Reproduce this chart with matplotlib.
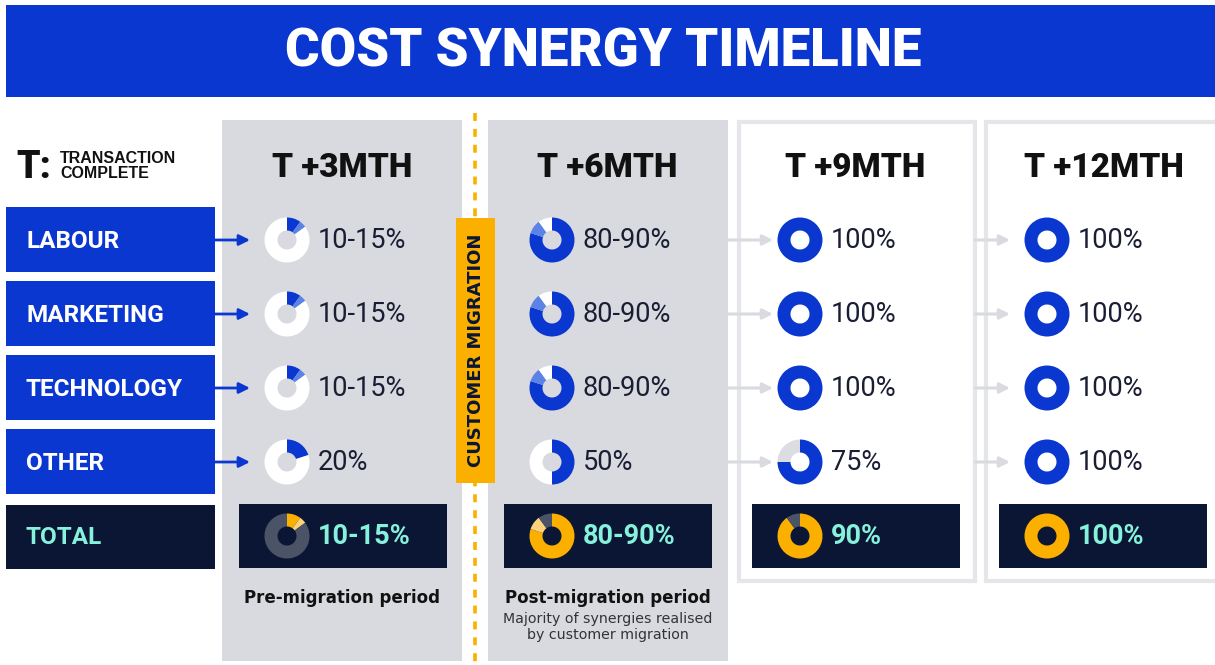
import matplotlib.pyplot as plt
from matplotlib.patches import Rectangle, Wedge

W, H = 1215, 665

periods = ["T +3MTH", "T +6MTH", "T +9MTH", "T +12MTH"]
categories = ["LABOUR", "MARKETING", "TECHNOLOGY", "OTHER"]
# realised cost synergies (%) per period, one entry per category
synergy_low = [[10, 10, 10, 20], [80, 80, 80, 50], [100, 100, 100, 75], [100, 100, 100, 100]]
synergy_high = [[15, 15, 15, 20], [90, 90, 90, 50], [100, 100, 100, 75], [100, 100, 100, 100]]
total_low = [10, 80, 90, 100]
total_high = [15, 90, 90, 100]

BLUE = '#0a37d0'
LIGHT_BLUE = '#5b82e6'
NAVY = '#0b1634'
ORANGE = '#fbb000'
LIGHT_ORANGE = '#fdd27a'
SLATE = '#4b5367'
PANEL_GREY = '#d9dae0'
BORDER = '#e5e6ea'
TEAL = '#86f2dc'
INK = '#1a1e33'
HEAD = ['Roboto', 'DejaVu Sans']
BODY = ['DejaVu Sans']


def label(lo, hi):
    return f"{lo}%" if lo == hi else f"{lo}-{hi}%"


def donut(ax, cx, cy, lo, hi, main, part, rest, r=22.5, w=13):
    for a, b, c in [(0, lo, main), (lo, hi, part), (hi, 100, rest)]:
        if b > a:
            ax.add_patch(Wedge((cx, cy), r, 270 + 3.6 * a, 270 + 3.6 * b,
                               width=w, facecolor=c, edgecolor='none'))


def main():
    fig = plt.figure(figsize=(W / 100, H / 100), dpi=100)
    ax = fig.add_axes([0, 0, 1, 1])
    ax.set_xlim(0, W)
    ax.set_ylim(H, 0)
    ax.axis('off')

    # title banner
    ax.add_patch(Rectangle((6, 5), W, 92, facecolor=BLUE, edgecolor='none'))
    ax.text(603, 52, "COST SYNERGY TIMELINE", color='white', fontsize=38,
            fontweight='heavy', family=HEAD, ha='center', va='center')

    # period panels
    ax.add_patch(Rectangle((222, 120), 240, 541, facecolor=PANEL_GREY, edgecolor='none'))
    ax.add_patch(Rectangle((488, 120), 240, 541, facecolor=PANEL_GREY, edgecolor='none'))
    ax.add_patch(Rectangle((739, 122), 236, 459, facecolor='white', edgecolor=BORDER, lw=3))
    ax.add_patch(Rectangle((986, 122), 240, 459, facecolor='white', edgecolor=BORDER, lw=3))

    # customer migration divider
    ax.plot([475, 475], [113, 662], color=ORANGE, lw=2.6, dashes=(2.2, 2.2))
    ax.add_patch(Rectangle((456, 218), 39, 265, facecolor=ORANGE, edgecolor='none'))
    ax.text(476, 350, "CUSTOMER MIGRATION", color=NAVY, fontsize=13, fontweight='bold',
            family=BODY, rotation=90, ha='center', va='center')

    # legend
    ax.text(16, 167, "T:", fontsize=27, fontweight='heavy', family=HEAD,
            color='#111111', ha='left', va='center')
    ax.text(60, 166, "TRANSACTION\nCOMPLETE", fontsize=11.5, fontweight='bold',
            family=['Liberation Sans', 'DejaVu Sans'], color='#111111', ha='left',
            va='center', linespacing=0.95)

    row_y = [240, 314, 388, 462]
    total_y = 536
    donut_x = [287, 552, 800, 1047]
    head_x = [342, 607, 855, 1104]
    box_x = [239, 504, 752, 999]

    # category labels and arrows
    for cat, y in zip(categories, row_y):
        ax.add_patch(Rectangle((6, y - 33), 209, 65, facecolor=BLUE, edgecolor='none'))
        ax.text(26, y + 1, cat, color='white', fontsize=17.5, fontweight='bold',
                family=HEAD, ha='left', va='center')
        ax.annotate("", xy=(250, y), xytext=(214, y),
                    arrowprops=dict(arrowstyle='-|>', color=BLUE, lw=2, mutation_scale=16,
                                    shrinkA=0, shrinkB=0))
        for x0, x1 in [(728, 773), (975, 1010)]:
            ax.annotate("", xy=(x1, y), xytext=(x0, y),
                        arrowprops=dict(arrowstyle='-|>', color='#dadbe0', lw=2.2,
                                        mutation_scale=15, shrinkA=0, shrinkB=0))
    ax.add_patch(Rectangle((6, total_y - 31), 209, 64, facecolor=NAVY, edgecolor='none'))
    ax.text(26, total_y + 1, "TOTAL", color=TEAL, fontsize=17.5, fontweight='bold',
            family=HEAD, ha='left', va='center')

    # period columns
    for i, period in enumerate(periods):
        rest = 'white' if i < 2 else '#dcdde3'
        ax.text(head_x[i], 168, period, fontsize=24, fontweight='heavy', family=HEAD,
                color='#111111', ha='center', va='center')
        for j, y in enumerate(row_y):
            lo, hi = synergy_low[i][j], synergy_high[i][j]
            donut(ax, donut_x[i], y, lo, hi, BLUE, LIGHT_BLUE, rest)
            ax.text(donut_x[i] + 31, y + 1, label(lo, hi), fontsize=19.5, family=HEAD,
                    color=INK, ha='left', va='center')
        ax.add_patch(Rectangle((box_x[i], total_y - 32), 208, 64, facecolor=NAVY,
                               edgecolor='none'))
        donut(ax, donut_x[i], total_y, total_low[i], total_high[i], ORANGE, LIGHT_ORANGE, SLATE)
        ax.text(donut_x[i] + 31, total_y + 1, label(total_low[i], total_high[i]), fontsize=19.5,
                fontweight='bold', family=HEAD, color=TEAL, ha='left', va='center')

    # period notes
    ax.text(342, 598, "Pre-migration period", fontsize=12, fontweight='bold', family=BODY,
            color='#111111', ha='center', va='center')
    ax.text(608, 598, "Post-migration period", fontsize=12, fontweight='bold', family=BODY,
            color='#111111', ha='center', va='center')
    ax.text(608, 627, "Majority of synergies realised\nby customer migration", fontsize=10.2,
            family=BODY, color='#333333', ha='center', va='center', linespacing=1.1)

    fig.savefig('out.png', dpi=100)


if __name__ == '__main__':
    main()
